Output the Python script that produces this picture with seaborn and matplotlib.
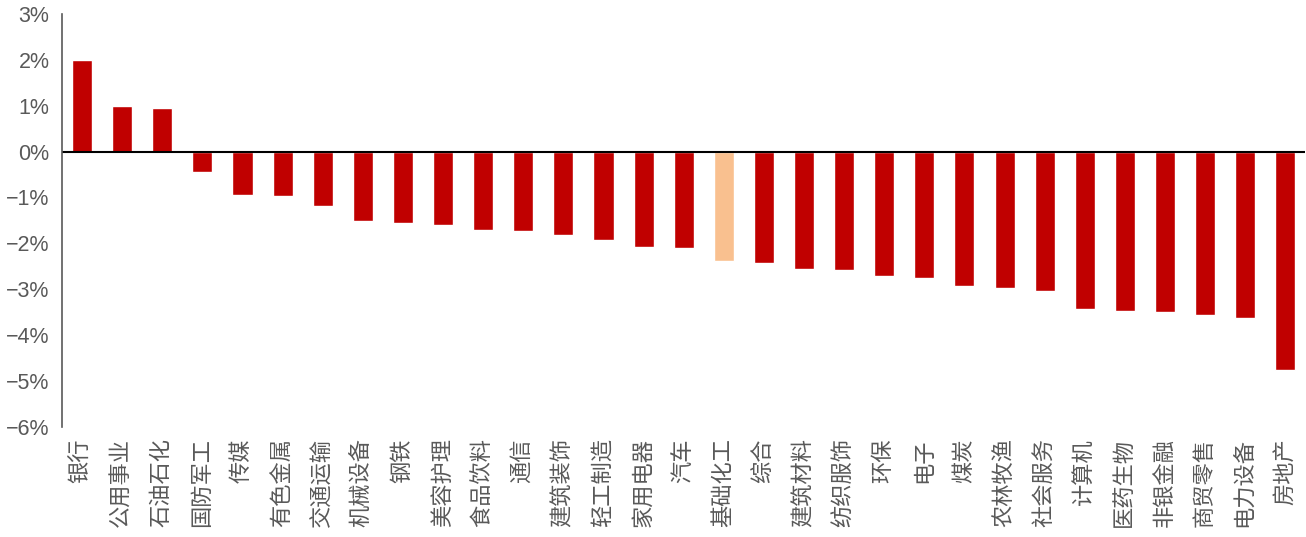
import pandas as pd
import matplotlib.pyplot as plt
import seaborn as sns
from matplotlib.ticker import FuncFormatter

# 行业涨跌幅 (%)
industries = ['银行', '公用事业', '石油石化', '国防军工', '传媒', '有色金属', '交通运输', '机械设备',
              '钢铁', '美容护理', '食品饮料', '通信', '建筑装饰', '轻工制造', '家用电器', '汽车',
              '基础化工', '综合', '建筑材料', '纺织服饰', '环保', '电子', '煤炭', '农林牧渔',
              '社会服务', '计算机', '医药生物', '非银金融', '商贸零售', '电力设备', '房地产']
returns = [1.99, 1.00, 0.94, -0.44, -0.94, -0.96, -1.18, -1.51,
           -1.55, -1.59, -1.70, -1.72, -1.81, -1.92, -2.07, -2.10,
           -2.38, -2.42, -2.55, -2.58, -2.71, -2.75, -2.93, -2.97,
           -3.03, -3.43, -3.47, -3.49, -3.56, -3.62, -4.76]
highlight = '基础化工'

df = pd.DataFrame({'industry': industries, 'ret': returns})
colors = ['#F9C08F' if name == highlight else '#C00000' for name in industries]

sns.set_style('white')
plt.rcParams['font.family'] = ['Liberation Sans', 'Noto Sans CJK SC', 'DejaVu Sans']
plt.rcParams['axes.unicode_minus'] = True

fig = plt.figure(figsize=(13.06, 5.37), dpi=100)
ax = fig.add_axes([0.0475, 0.205, 0.952, 0.769])

sns.barplot(data=df, x='industry', y='ret', hue='industry', palette=colors,
            legend=False, width=0.5, ax=ax, saturation=1)

ax.set_ylim(-6, 3)
ax.set_xlim(-0.5, len(industries) - 0.5)
ax.set_yticks(range(-6, 4))
ax.yaxis.set_major_formatter(FuncFormatter(lambda v, p: f'{int(v)}%'.replace('-', '\u2212')))
ax.axhline(0, color='black', linewidth=1.5)

for s in ['top', 'right', 'bottom']:
    ax.spines[s].set_visible(False)
ax.spines['left'].set_color('#595959')
ax.spines['left'].set_linewidth(1.2)
ax.tick_params(axis='y', direction='out', length=6, width=1.2, color='#595959',
               labelcolor='#595959', labelsize=15.5, pad=3)
ax.tick_params(axis='x', length=0, labelcolor='#595959', labelsize=16, pad=8)
plt.setp(ax.get_xticklabels(), rotation=90)
ax.set_xlabel('')
ax.set_ylabel('')

plt.savefig('out.png', dpi=100)
